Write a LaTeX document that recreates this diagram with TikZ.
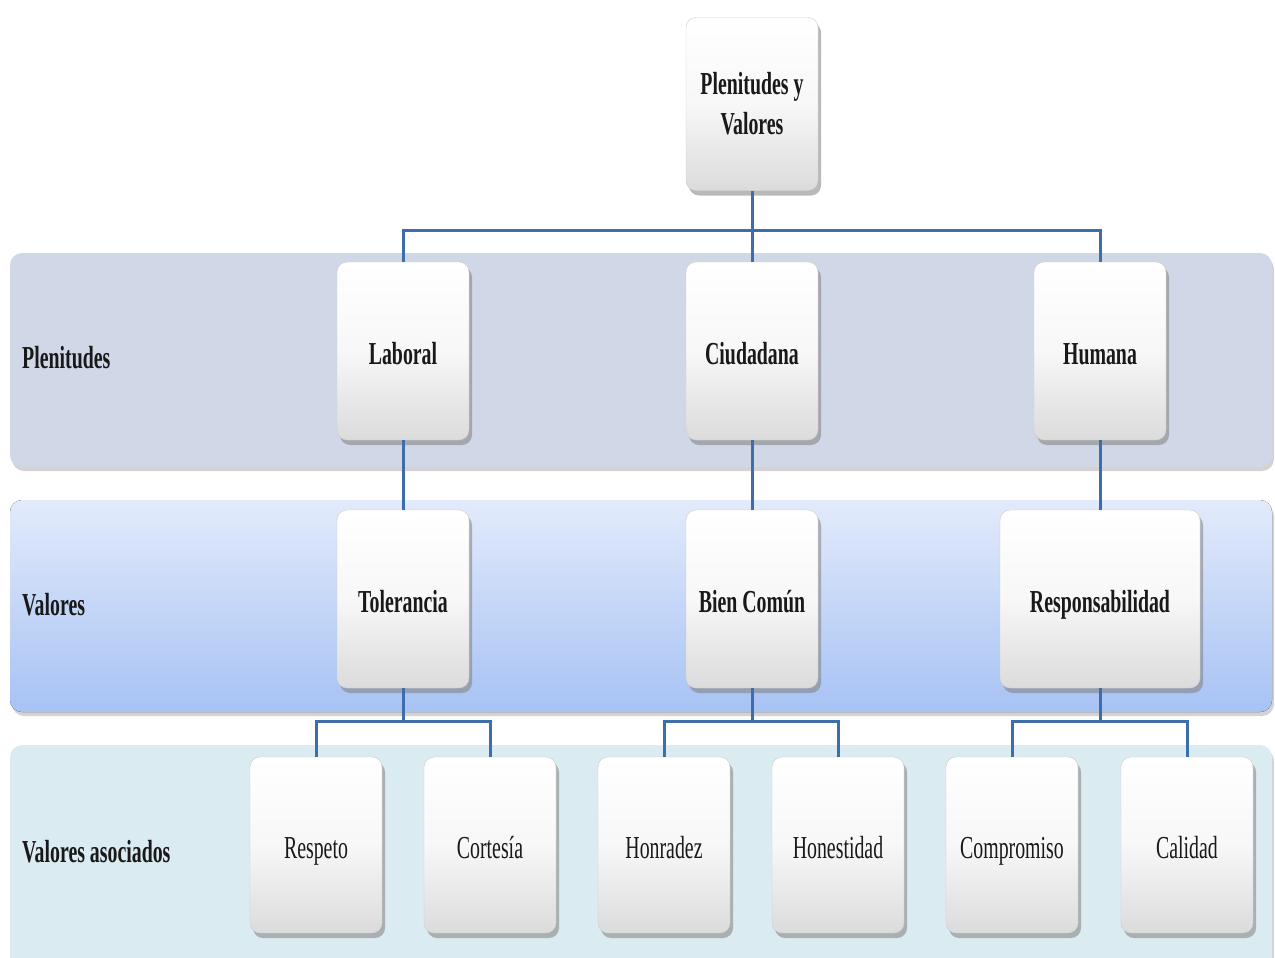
\documentclass[tikz,border=0pt]{standalone}
\usepackage{fontspec}
\newfontfamily\cond[FakeStretch=0.62]{Liberation Serif}
\usetikzlibrary{shadows,positioning}
\definecolor{bandA}{HTML}{D0D8E8}
\definecolor{bandBtop}{HTML}{E2EBFB}
\definecolor{bandBbot}{HTML}{A7C2F4}
\definecolor{bandC}{HTML}{DAEBF1}
\definecolor{conn}{HTML}{3E6EA9}
\tikzset{
  bandbox/.style={rounded corners=12pt, draw=none, drop shadow={shadow xshift=2pt, shadow yshift=-4pt, opacity=0.35}},
  card/.style={rounded corners=10pt, draw=gray!40, line width=0.4pt, top color=white, bottom color=gray!28, middle color=gray!6,
     drop shadow={shadow xshift=3pt, shadow yshift=-5pt, opacity=0.55}, align=center, inner sep=2pt,
     text height=26pt, text depth=0pt,
     font=\cond\fontsize{32}{34}\selectfont\bfseries, text=black!90},
  leaf/.style={card, font=\cond\fontsize{32}{34}\selectfont},
  rootcard/.style={card, text height=, text depth=, font=\cond\fontsize{32}{40}\selectfont\bfseries},
  bandlabel/.style={anchor=base west, font=\cond\fontsize{32}{34}\selectfont\bfseries, text=black!90, inner sep=0pt},
  link/.style={draw=conn, line width=3pt}
}
\begin{document}
\begin{tikzpicture}[x=1pt,y=-1pt]
\useasboundingbox (0,0) rectangle (1275,958);
% bands
\fill[bandbox, fill=bandA] (10,253) rectangle (1272,467);
\fill[bandbox, top color=bandBtop, bottom color=bandBbot] (10,500) rectangle (1272,712);
\fill[bandbox, fill=bandC] (10,745) rectangle (1272,975);
% band labels
\node[bandlabel] (lab1) at (22,368) {Plenitudes};
\node[bandlabel] (lab2) at (22,615) {Valores};
\node[bandlabel] (lab3) at (22,862) {Valores asociados};
% root
\node[rootcard, minimum width=132pt, minimum height=173pt] (root) at (752,104) {Plenitudes y\\Valores};
% row 1
\node[card, minimum width=132pt, minimum height=178pt] (lab) at (403,351) {Laboral};
\node[card, minimum width=132pt, minimum height=178pt] (ciu) at (752,351) {Ciudadana};
\node[card, minimum width=132pt, minimum height=178pt] (hum) at (1100,351) {Humana};
% row 2
\node[card, minimum width=132pt, minimum height=178pt] (tol) at (403,599) {Tolerancia};
\node[card, minimum width=132pt, minimum height=178pt] (bien) at (752,599) {Bien Común};
\node[card, minimum width=200pt, minimum height=178pt] (resp) at (1100,599) {Responsabilidad};
% row 3
\node[leaf, minimum width=132pt, minimum height=176pt] (r1) at (316,845) {Respeto};
\node[leaf, minimum width=132pt, minimum height=176pt] (r2) at (490,845) {Cortesía};
\node[leaf, minimum width=132pt, minimum height=176pt] (r3) at (664,845) {Honradez};
\node[leaf, minimum width=132pt, minimum height=176pt] (r4) at (838,845) {Honestidad};
\node[leaf, minimum width=132pt, minimum height=176pt] (r5) at (1012,845) {Compromiso};
\node[leaf, minimum width=132pt, minimum height=176pt] (r6) at (1187,845) {Calidad};
% connectors
\coordinate (j0) at (752,230);
\draw[link] (root.south) -- (j0);
\draw[link] (j0) -| (lab.north);
\draw[link] (j0) -- (ciu.north);
\draw[link] (j0) -| (hum.north);
\draw[link] (lab.south) -- (tol.north);
\draw[link] (ciu.south) -- (bien.north);
\draw[link] (hum.south) -- (resp.north);
\coordinate (j1) at (403,721);
\coordinate (j2) at (752,721);
\coordinate (j3) at (1100,721);
\draw[link] (tol.south) -- (j1);
\draw[link] (j1) -| (r1.north);
\draw[link] (j1) -| (r2.north);
\draw[link] (bien.south) -- (j2);
\draw[link] (j2) -| (r3.north);
\draw[link] (j2) -| (r4.north);
\draw[link] (resp.south) -- (j3);
\draw[link] (j3) -| (r5.north);
\draw[link] (j3) -| (r6.north);
\end{tikzpicture}
\end{document}
